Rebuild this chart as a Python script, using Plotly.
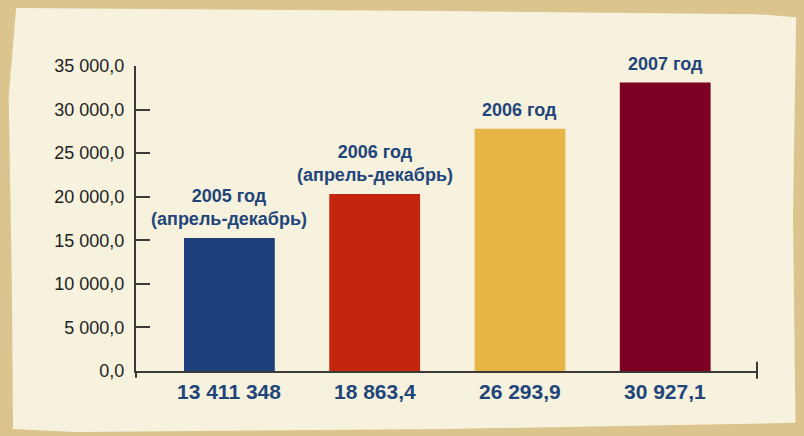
import plotly.graph_objects as go

# ================= DATA =================
periods = ["2005 год<br>(апрель-декабрь)", "2006 год<br>(апрель-декабрь)", "2006 год", "2007 год"]
bar_heights = [15250, 20300, 27800, 33100]
value_labels = ["13 411 348", "18 863,4", "26 293,9", "30 927,1"]
bar_colors = ["#1d3f7b", "#c3260c", "#e7b446", "#7c0024"]
y_ticks = [0, 5000, 10000, 15000, 20000, 25000, 30000, 35000]

LABEL_BLUE = "#21457a"
AXIS_GREY = "#3c3a36"

xs = list(range(len(bar_heights)))

fig = go.Figure(go.Bar(
    x=xs,
    y=bar_heights,
    marker=dict(color=bar_colors, line=dict(width=0)),
    width=0.625,
    hoverinfo="skip",
))

# labels above the bars
for x, h, txt in zip(xs, bar_heights, periods):
    fig.add_annotation(x=x, y=h, text=f"<b>{txt}</b>", showarrow=False, yanchor="bottom", yshift=7,
                       font=dict(family="Liberation Sans, Arial", size=18, color=LABEL_BLUE))

# values under the axis
for x, txt in zip(xs, value_labels):
    fig.add_annotation(x=x, y=0, yref="paper", text=f"<b>{txt}</b>", showarrow=False,
                       yanchor="top", yshift=-7,
                       font=dict(family="Liberation Sans Narrow, Arial Narrow, Liberation Sans",
                                 size=21, color=LABEL_BLUE))

# parchment sheet
fig.add_shape(type="path", xref="paper", yref="paper", layer="below",
              path="M -0.193,1.19 L 0.5,1.18 L 1.0,1.17 L 1.063,1.16 L 1.058,0.5 L 1.062,-0.17 "
                   "L 0.5,-0.19 L -0.1,-0.2 L -0.198,-0.19 L -0.2,0.3 L -0.205,0.9 Z",
              fillcolor="#f7f2dd", line=dict(width=0))

# axis end marks
fig.add_shape(type="line", xref="paper", yref="paper", x0=1, x1=1, y0=-0.025, y1=0.03,
              line=dict(color=AXIS_GREY, width=2))
fig.add_shape(type="line", xref="paper", yref="paper", x0=0, x1=0, y0=-0.022, y1=0,
              line=dict(color=AXIS_GREY, width=2))

fig.update_layout(
    width=804, height=436,
    margin=dict(l=136, r=47, t=66, b=65),
    paper_bgcolor="#dcc48f",
    plot_bgcolor="rgba(0,0,0,0)",
    separators=", ",
    showlegend=False,
    xaxis=dict(range=[-0.643, 3.632], showticklabels=False, showgrid=False, zeroline=False,
               showline=True, linecolor=AXIS_GREY, linewidth=2, fixedrange=True),
    yaxis=dict(range=[0, 35000], tickvals=y_ticks, tickformat=",.1f", ticks="inside",
               ticklen=14, tickwidth=2, tickcolor=AXIS_GREY, showgrid=False, zeroline=False,
               showline=True, linecolor=AXIS_GREY, linewidth=2, ticklabelstandoff=6,
               fixedrange=True,
               tickfont=dict(family="Liberation Sans, Arial", size=18, color="#222222")),
)

# page body has a default margin; drop it so the figure sits at the window corner
fig.write_html("out.html", config={"displayModeBar": False},
               post_script="document.body.style.margin='0';")
